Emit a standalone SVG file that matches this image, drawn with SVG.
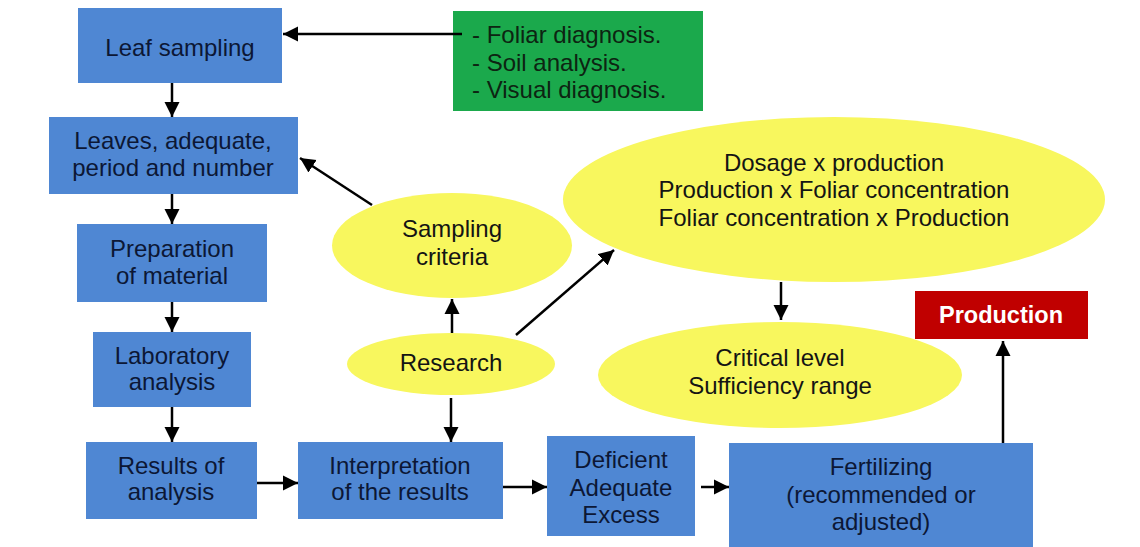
<svg xmlns="http://www.w3.org/2000/svg" width="1140" height="547" viewBox="0 0 1140 547">
<defs>
<style>
.box{fill:#4f87d3}
.ell{fill:#f8f75e}
.t{font-family:"Liberation Sans",Arial,sans-serif;font-size:24px;text-anchor:middle;fill:#0c1735}
.ty{font-family:"Liberation Sans",Arial,sans-serif;font-size:24px;text-anchor:middle;fill:#141414}
.tg{font-family:"Liberation Sans",Arial,sans-serif;font-size:24px;fill:#0d2412}
.tw{font-family:"Liberation Sans",Arial,sans-serif;font-size:23.5px;font-weight:bold;text-anchor:middle;fill:#ffffff}
.c{stroke:#000;stroke-width:2.5;fill:none;marker-end:url(#ah)}
</style>
<marker id="ah" viewBox="0 0 16 16" markerWidth="16" markerHeight="16" refX="15" refY="8" orient="auto" markerUnits="userSpaceOnUse">
<path d="M0,0.5 L15,8 L0,15.5 z" fill="#000"/>
</marker>
</defs>
<rect width="1140" height="547" fill="#ffffff"/>

<g id="connectors">
<line class="c" x1="462" y1="34" x2="283" y2="34"/>
<line class="c" x1="172" y1="83" x2="172" y2="117"/>
<line class="c" x1="172" y1="194" x2="172" y2="224"/>
<line class="c" x1="172" y1="302" x2="172" y2="332"/>
<line class="c" x1="172" y1="407" x2="172" y2="442"/>
<line class="c" x1="257" y1="483" x2="298" y2="483"/>
<line class="c" x1="503" y1="487" x2="547" y2="487"/>
<line class="c" x1="701" y1="487" x2="729" y2="487"/>
<line class="c" x1="372" y1="205" x2="300" y2="158"/>
<line class="c" x1="452" y1="333" x2="452" y2="299"/>
<line class="c" x1="451" y1="398" x2="451" y2="442"/>
<line class="c" x1="516" y1="335" x2="614" y2="250"/>
<line class="c" x1="781" y1="282" x2="781" y2="320"/>
<line class="c" x1="1003" y1="443" x2="1003" y2="341"/>
</g>

<g id="leaf-sampling">
<rect class="box" x="78" y="8" width="204" height="75"/>
<text class="t" x="180" y="56">Leaf sampling</text>
</g>

<g id="methods">
<rect x="453" y="11" width="250" height="100" fill="#1ba94c"/>
<line x1="453" y1="34" x2="462" y2="34" stroke="#000" stroke-width="2.5"/>
<text class="tg" x="472" y="43">- Foliar diagnosis.</text>
<text class="tg" x="472" y="71">- Soil analysis.</text>
<text class="tg" x="472" y="98">- Visual diagnosis.</text>
</g>

<g id="leaves">
<rect class="box" x="49" y="117" width="249" height="77"/>
<text class="t" x="173" y="149">Leaves, adequate,</text>
<text class="t" x="173" y="176">period and number</text>
</g>

<g id="preparation">
<rect class="box" x="77" y="224" width="190" height="78"/>
<text class="t" x="172" y="257">Preparation</text>
<text class="t" x="172" y="284">of material</text>
</g>

<g id="laboratory">
<rect class="box" x="93" y="332" width="158" height="75"/>
<text class="t" x="172" y="364">Laboratory</text>
<text class="t" x="172" y="390">analysis</text>
</g>

<g id="results">
<rect class="box" x="86" y="442" width="171" height="77"/>
<text class="t" x="171" y="474">Results of</text>
<text class="t" x="171" y="500">analysis</text>
</g>

<g id="interpretation">
<rect class="box" x="298" y="442" width="205" height="77"/>
<text class="t" x="400" y="474">Interpretation</text>
<text class="t" x="400" y="500">of the results</text>
</g>

<g id="status">
<rect class="box" x="547" y="436" width="148" height="100"/>
<text class="t" x="621" y="468">Deficient</text>
<text class="t" x="621" y="496">Adequate</text>
<text class="t" x="621" y="523">Excess</text>
</g>

<g id="fertilizing">
<rect class="box" x="729" y="443" width="304" height="104"/>
<text class="t" x="881" y="475">Fertilizing</text>
<text class="t" x="881" y="503">(recommended or</text>
<text class="t" x="881" y="530">adjusted)</text>
</g>

<g id="production">
<rect x="915" y="291" width="173" height="48" fill="#c00000"/>
<text class="tw" x="1001" y="323">Production</text>
</g>

<g id="sampling-criteria">
<ellipse class="ell" cx="452" cy="245.5" rx="120" ry="52.5"/>
<text class="ty" x="452" y="237">Sampling</text>
<text class="ty" x="452" y="265">criteria</text>
</g>

<g id="research">
<ellipse class="ell" cx="451" cy="364" rx="104" ry="31"/>
<text class="ty" x="451" y="371">Research</text>
</g>

<g id="relations">
<ellipse class="ell" cx="834" cy="199.5" rx="271" ry="82.5"/>
<text class="ty" x="834" y="171">Dosage x production</text>
<text class="ty" x="834" y="198">Production x Foliar concentration</text>
<text class="ty" x="834" y="226">Foliar concentration x Production</text>
</g>

<g id="critical-level">
<ellipse class="ell" cx="780" cy="375" rx="182" ry="53"/>
<text class="ty" x="780" y="366">Critical level</text>
<text class="ty" x="780" y="394">Sufficiency range</text>
</g>
</svg>
